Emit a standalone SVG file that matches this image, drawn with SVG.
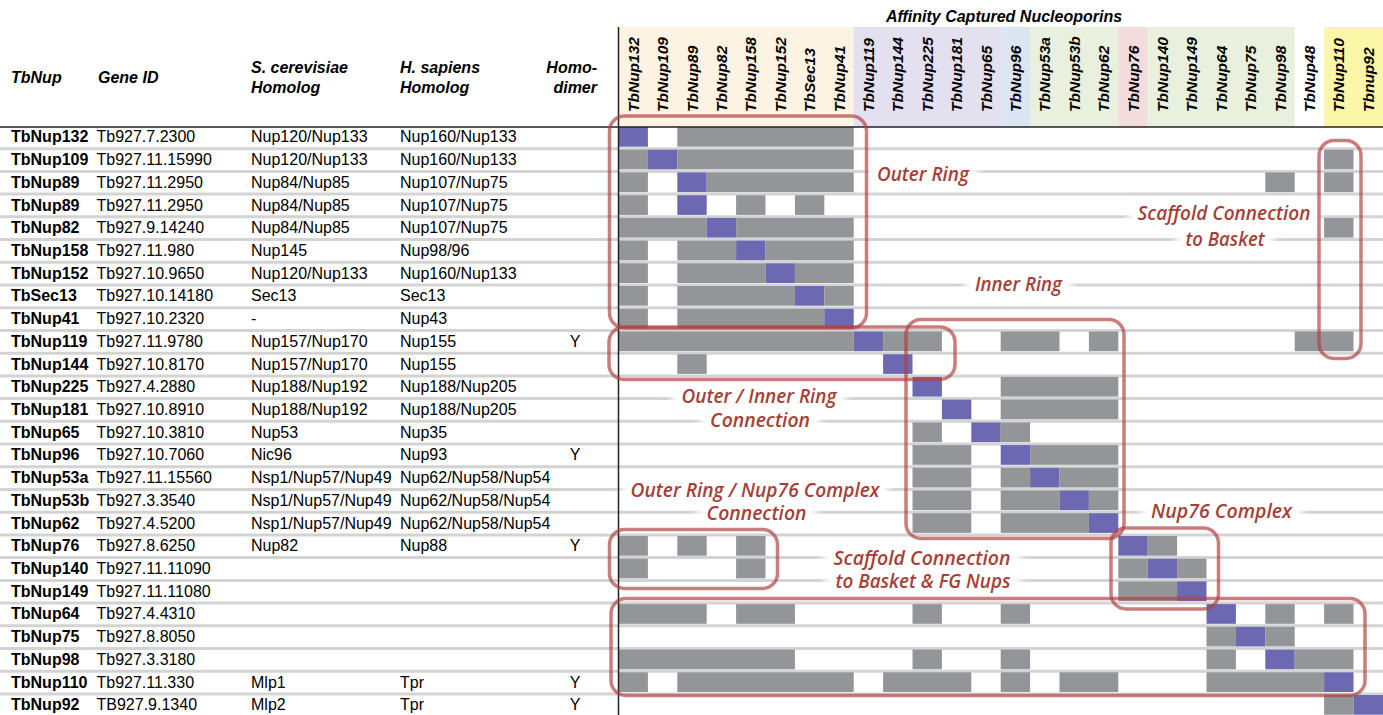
<svg xmlns="http://www.w3.org/2000/svg" width="1383" height="715" viewBox="0 0 1383 715">
<style>
.t{font-family:"Liberation Sans",Arial,sans-serif;font-size:16px;fill:#000}
.b{font-weight:bold}
.hd{font-family:"Liberation Sans",Arial,sans-serif;font-size:16px;font-weight:bold;font-style:italic;fill:#000}
.ch{font-family:"Liberation Sans",Arial,sans-serif;font-size:15.5px;font-weight:bold;font-style:italic;fill:#000}
.g{fill:#939598}
.p{fill:#6c68b1}
.box{fill:none;stroke:#b0413f;stroke-opacity:0.68;stroke-width:3.5}
.lb{font-family:"Open Sans","Liberation Sans",sans-serif;font-size:19px;font-style:italic;font-weight:600;fill:#a63f37;text-anchor:middle}
.halo{fill:#fff;filter:url(#blur)}
</style>
<defs>
<filter id="blur" x="-30%" y="-80%" width="160%" height="260%"><feGaussianBlur stdDeviation="4"/></filter>
</defs>
<rect width="1383" height="715" fill="#fff"/>
<g id="header-bands">
<rect x="618.5" y="27" width="235.2" height="100" fill="#fdf3e2"/>
<rect x="853.7" y="27" width="147" height="100" fill="#e3e0ef"/>
<rect x="1000.7" y="27" width="29.4" height="100" fill="#dce6f2"/>
<rect x="1030.1" y="27" width="88.2" height="100" fill="#e9f0dd"/>
<rect x="1118.3" y="27" width="29.4" height="100" fill="#f4dcdc"/>
<rect x="1147.7" y="27" width="147" height="100" fill="#e9f0dd"/>
<rect x="1324.1" y="27" width="58.9" height="100" fill="#fcf6a9"/>
</g>
<g id="row-lines" stroke="#d3d3d3" stroke-width="3">
<path d="M0 148.7H1383M0 171.4H1383M0 194.1H1383M0 216.8H1383M0 239.6H1383M0 262.3H1383M0 285H1383M0 307.7H1383M0 330.4H1383M0 353.2H1383M0 375.9H1383M0 398.6H1383M0 421.3H1383M0 444H1383M0 466.8H1383M0 489.5H1383M0 512.2H1383M0 534.9H1383M0 557.6H1383M0 580.4H1383M0 603.1H1383M0 625.8H1383M0 648.5H1383M0 671.2H1383M0 694H1383M0 716.7H1383"/>
</g>
<g id="halos">
<rect class="halo" x="868" y="164" width="110" height="22"/>
<rect class="halo" x="1128" y="203" width="192" height="22"/>
<rect class="halo" x="1176" y="230" width="98" height="21"/>
<rect class="halo" x="965" y="275" width="107" height="22"/>
<rect class="halo" x="672" y="387" width="174" height="22"/>
<rect class="halo" x="700" y="410" width="120" height="22"/>
<rect class="halo" x="621" y="479" width="268" height="23"/>
<rect class="halo" x="697" y="503" width="119" height="22"/>
<rect class="halo" x="1141" y="500" width="161" height="23"/>
<rect class="halo" x="823" y="547" width="198" height="23"/>
<rect class="halo" x="825" y="571" width="196" height="22"/>
</g>
<g id="cells">
<rect class="p" x="618.5" y="127" width="29.4" height="19.7"/><rect class="g" x="677.3" y="127" width="176.4" height="19.7"/>
<rect class="g" x="618.5" y="149.7" width="29.4" height="19.7"/><rect class="p" x="647.9" y="149.7" width="29.4" height="19.7"/><rect class="g" x="677.3" y="149.7" width="176.4" height="19.7"/><rect class="g" x="1324.1" y="149.7" width="29.4" height="19.7"/>
<rect class="g" x="618.5" y="172.4" width="29.4" height="19.7"/><rect class="p" x="677.3" y="172.4" width="29.4" height="19.7"/><rect class="g" x="706.7" y="172.4" width="147" height="19.7"/><rect class="g" x="1265.3" y="172.4" width="29.4" height="19.7"/><rect class="g" x="1324.1" y="172.4" width="29.4" height="19.7"/>
<rect class="g" x="618.5" y="195.2" width="29.4" height="19.7"/><rect class="p" x="677.3" y="195.2" width="29.4" height="19.7"/><rect class="g" x="736.1" y="195.2" width="29.4" height="19.7"/><rect class="g" x="794.9" y="195.2" width="29.4" height="19.7"/>
<rect class="g" x="618.5" y="217.9" width="88.2" height="19.7"/><rect class="p" x="706.7" y="217.9" width="29.4" height="19.7"/><rect class="g" x="736.1" y="217.9" width="117.6" height="19.7"/><rect class="g" x="1324.1" y="217.9" width="29.4" height="19.7"/>
<rect class="g" x="618.5" y="240.6" width="29.4" height="19.7"/><rect class="g" x="677.3" y="240.6" width="58.8" height="19.7"/><rect class="p" x="736.1" y="240.6" width="29.4" height="19.7"/><rect class="g" x="765.5" y="240.6" width="88.2" height="19.7"/>
<rect class="g" x="618.5" y="263.3" width="29.4" height="19.7"/><rect class="g" x="677.3" y="263.3" width="88.2" height="19.7"/><rect class="p" x="765.5" y="263.3" width="29.4" height="19.7"/><rect class="g" x="794.9" y="263.3" width="58.8" height="19.7"/>
<rect class="g" x="618.5" y="286" width="29.4" height="19.7"/><rect class="g" x="677.3" y="286" width="117.6" height="19.7"/><rect class="p" x="794.9" y="286" width="29.4" height="19.7"/><rect class="g" x="824.3" y="286" width="29.4" height="19.7"/>
<rect class="g" x="618.5" y="308.8" width="29.4" height="19.7"/><rect class="g" x="677.3" y="308.8" width="147" height="19.7"/><rect class="p" x="824.3" y="308.8" width="29.4" height="19.7"/>
<rect class="g" x="618.5" y="331.5" width="235.2" height="19.7"/><rect class="p" x="853.7" y="331.5" width="29.4" height="19.7"/><rect class="g" x="883.1" y="331.5" width="58.8" height="19.7"/><rect class="g" x="1000.7" y="331.5" width="58.8" height="19.7"/><rect class="g" x="1088.9" y="331.5" width="29.4" height="19.7"/><rect class="g" x="1294.7" y="331.5" width="58.8" height="19.7"/>
<rect class="g" x="677.3" y="354.2" width="29.4" height="19.7"/><rect class="p" x="883.1" y="354.2" width="29.4" height="19.7"/>
<rect class="p" x="912.5" y="376.9" width="29.4" height="19.7"/><rect class="g" x="1000.7" y="376.9" width="117.6" height="19.7"/>
<rect class="p" x="941.9" y="399.6" width="29.4" height="19.7"/><rect class="g" x="1000.7" y="399.6" width="117.6" height="19.7"/>
<rect class="g" x="912.5" y="422.4" width="29.4" height="19.7"/><rect class="p" x="971.3" y="422.4" width="29.4" height="19.7"/><rect class="g" x="1000.7" y="422.4" width="29.4" height="19.7"/>
<rect class="g" x="912.5" y="445.1" width="58.8" height="19.7"/><rect class="p" x="1000.7" y="445.1" width="29.4" height="19.7"/><rect class="g" x="1030.1" y="445.1" width="88.2" height="19.7"/>
<rect class="g" x="912.5" y="467.8" width="58.8" height="19.7"/><rect class="g" x="1000.7" y="467.8" width="29.4" height="19.7"/><rect class="p" x="1030.1" y="467.8" width="29.4" height="19.7"/><rect class="g" x="1059.5" y="467.8" width="58.8" height="19.7"/>
<rect class="g" x="912.5" y="490.5" width="58.8" height="19.7"/><rect class="g" x="1000.7" y="490.5" width="58.8" height="19.7"/><rect class="p" x="1059.5" y="490.5" width="29.4" height="19.7"/><rect class="g" x="1088.9" y="490.5" width="29.4" height="19.7"/>
<rect class="g" x="912.5" y="513.2" width="58.8" height="19.7"/><rect class="g" x="1000.7" y="513.2" width="88.2" height="19.7"/><rect class="p" x="1088.9" y="513.2" width="29.4" height="19.7"/>
<rect class="g" x="618.5" y="536" width="29.4" height="19.7"/><rect class="g" x="677.3" y="536" width="29.4" height="19.7"/><rect class="g" x="736.1" y="536" width="29.4" height="19.7"/><rect class="p" x="1118.3" y="536" width="29.4" height="19.7"/><rect class="g" x="1147.7" y="536" width="29.4" height="19.7"/>
<rect class="g" x="618.5" y="558.7" width="29.4" height="19.7"/><rect class="g" x="736.1" y="558.7" width="29.4" height="19.7"/><rect class="g" x="1118.3" y="558.7" width="29.4" height="19.7"/><rect class="p" x="1147.7" y="558.7" width="29.4" height="19.7"/><rect class="g" x="1177.1" y="558.7" width="29.4" height="19.7"/>
<rect class="g" x="1118.3" y="581.4" width="58.8" height="19.7"/><rect class="p" x="1177.1" y="581.4" width="29.4" height="19.7"/>
<rect class="g" x="618.5" y="604.1" width="88.2" height="19.7"/><rect class="g" x="736.1" y="604.1" width="58.8" height="19.7"/><rect class="g" x="912.5" y="604.1" width="29.4" height="19.7"/><rect class="g" x="1000.7" y="604.1" width="29.4" height="19.7"/><rect class="p" x="1206.5" y="604.1" width="29.4" height="19.7"/><rect class="g" x="1265.3" y="604.1" width="29.4" height="19.7"/><rect class="g" x="1324.1" y="604.1" width="29.4" height="19.7"/>
<rect class="g" x="1206.5" y="626.8" width="29.4" height="19.7"/><rect class="p" x="1235.9" y="626.8" width="29.4" height="19.7"/><rect class="g" x="1265.3" y="626.8" width="29.4" height="19.7"/>
<rect class="g" x="618.5" y="649.6" width="176.4" height="19.7"/><rect class="g" x="912.5" y="649.6" width="29.4" height="19.7"/><rect class="g" x="1000.7" y="649.6" width="29.4" height="19.7"/><rect class="g" x="1206.5" y="649.6" width="29.4" height="19.7"/><rect class="p" x="1265.3" y="649.6" width="29.4" height="19.7"/><rect class="g" x="1294.7" y="649.6" width="58.8" height="19.7"/>
<rect class="g" x="618.5" y="672.3" width="29.4" height="19.7"/><rect class="g" x="677.3" y="672.3" width="176.4" height="19.7"/><rect class="g" x="883.1" y="672.3" width="88.2" height="19.7"/><rect class="g" x="1000.7" y="672.3" width="29.4" height="19.7"/><rect class="g" x="1059.5" y="672.3" width="58.8" height="19.7"/><rect class="g" x="1206.5" y="672.3" width="117.6" height="19.7"/><rect class="p" x="1324.1" y="672.3" width="29.4" height="19.7"/>
<rect class="g" x="1324.1" y="695" width="29.4" height="19.7"/><rect class="p" x="1353.5" y="695" width="29.5" height="19.7"/>
</g>
<g id="rules" stroke="#222" stroke-width="1.5">
<line x1="0" y1="127" x2="1383" y2="127"/>
<line x1="618.5" y1="27" x2="618.5" y2="715"/>
</g>
<g id="table-header">
<text class="hd" x="11" y="83">TbNup</text>
<text class="hd" x="98" y="83">Gene ID</text>
<text class="hd" x="251" y="72.5">S. cerevisiae</text>
<text class="hd" x="251" y="92.5">Homolog</text>
<text class="hd" x="400" y="72.5">H. sapiens</text>
<text class="hd" x="400" y="92.5">Homolog</text>
<text class="hd" x="597" y="72.5" text-anchor="end">Homo-</text>
<text class="hd" x="597" y="92.5" text-anchor="end">dimer</text>
<text class="hd" x="1004" y="22" text-anchor="middle">Affinity Captured Nucleoporins</text>
</g>
<g id="column-headers">
<text class="ch" transform="translate(638.7,112) rotate(-90)">TbNup132</text>
<text class="ch" transform="translate(668.1,112) rotate(-90)">TbNup109</text>
<text class="ch" transform="translate(697.5,112) rotate(-90)">TbNup89</text>
<text class="ch" transform="translate(726.9,112) rotate(-90)">TbNup82</text>
<text class="ch" transform="translate(756.3,112) rotate(-90)">TbNup158</text>
<text class="ch" transform="translate(785.7,112) rotate(-90)">TbNup152</text>
<text class="ch" transform="translate(815.1,112) rotate(-90)">TbSec13</text>
<text class="ch" transform="translate(844.5,112) rotate(-90)">TbNup41</text>
<text class="ch" transform="translate(873.9,112) rotate(-90)">TbNup119</text>
<text class="ch" transform="translate(903.3,112) rotate(-90)">TbNup144</text>
<text class="ch" transform="translate(932.7,112) rotate(-90)">TbNup225</text>
<text class="ch" transform="translate(962.1,112) rotate(-90)">TbNup181</text>
<text class="ch" transform="translate(991.5,112) rotate(-90)">TbNup65</text>
<text class="ch" transform="translate(1020.9,112) rotate(-90)">TbNup96</text>
<text class="ch" transform="translate(1050.3,112) rotate(-90)">TbNup53a</text>
<text class="ch" transform="translate(1079.7,112) rotate(-90)">TbNup53b</text>
<text class="ch" transform="translate(1109.1,112) rotate(-90)">TbNup62</text>
<text class="ch" transform="translate(1138.5,112) rotate(-90)">TbNup76</text>
<text class="ch" transform="translate(1167.9,112) rotate(-90)">TbNup140</text>
<text class="ch" transform="translate(1197.3,112) rotate(-90)">TbNup149</text>
<text class="ch" transform="translate(1226.7,112) rotate(-90)">TbNup64</text>
<text class="ch" transform="translate(1256.1,112) rotate(-90)">TbNup75</text>
<text class="ch" transform="translate(1285.5,112) rotate(-90)">TbNup98</text>
<text class="ch" transform="translate(1314.9,112) rotate(-90)">TbNup48</text>
<text class="ch" transform="translate(1344.3,112) rotate(-90)">TbNup110</text>
<text class="ch" transform="translate(1373.7,112) rotate(-90)">Tbnup92</text>
</g>
<g id="table-rows" class="t">
<g id="row-TbNup132"><text class="t b" x="11" y="142.3">TbNup132</text><text class="t" x="96.5" y="142.3">Tb927.7.2300</text><text class="t" x="251" y="142.3">Nup120/Nup133</text><text class="t" x="400" y="142.3">Nup160/Nup133</text></g>
<g id="row-TbNup109"><text class="t b" x="11" y="165">TbNup109</text><text class="t" x="96.5" y="165">Tb927.11.15990</text><text class="t" x="251" y="165">Nup120/Nup133</text><text class="t" x="400" y="165">Nup160/Nup133</text></g>
<g id="row-TbNup89a"><text class="t b" x="11" y="187.7">TbNup89</text><text class="t" x="96.5" y="187.7">Tb927.11.2950</text><text class="t" x="251" y="187.7">Nup84/Nup85</text><text class="t" x="400" y="187.7">Nup107/Nup75</text></g>
<g id="row-TbNup89b"><text class="t b" x="11" y="210.5">TbNup89</text><text class="t" x="96.5" y="210.5">Tb927.11.2950</text><text class="t" x="251" y="210.5">Nup84/Nup85</text><text class="t" x="400" y="210.5">Nup107/Nup75</text></g>
<g id="row-TbNup82"><text class="t b" x="11" y="233.2">TbNup82</text><text class="t" x="96.5" y="233.2">Tb927.9.14240</text><text class="t" x="251" y="233.2">Nup84/Nup85</text><text class="t" x="400" y="233.2">Nup107/Nup75</text></g>
<g id="row-TbNup158"><text class="t b" x="11" y="255.9">TbNup158</text><text class="t" x="96.5" y="255.9">Tb927.11.980</text><text class="t" x="251" y="255.9">Nup145</text><text class="t" x="400" y="255.9">Nup98/96</text></g>
<g id="row-TbNup152"><text class="t b" x="11" y="278.6">TbNup152</text><text class="t" x="96.5" y="278.6">Tb927.10.9650</text><text class="t" x="251" y="278.6">Nup120/Nup133</text><text class="t" x="400" y="278.6">Nup160/Nup133</text></g>
<g id="row-TbSec13"><text class="t b" x="11" y="301.3">TbSec13</text><text class="t" x="96.5" y="301.3">Tb927.10.14180</text><text class="t" x="251" y="301.3">Sec13</text><text class="t" x="400" y="301.3">Sec13</text></g>
<g id="row-TbNup41"><text class="t b" x="11" y="324.1">TbNup41</text><text class="t" x="96.5" y="324.1">Tb927.10.2320</text><text class="t" x="251" y="324.1">-</text><text class="t" x="400" y="324.1">Nup43</text></g>
<g id="row-TbNup119"><text class="t b" x="11" y="346.8">TbNup119</text><text class="t" x="96.5" y="346.8">Tb927.11.9780</text><text class="t" x="251" y="346.8">Nup157/Nup170</text><text class="t" x="400" y="346.8">Nup155</text><text class="t" x="575" y="346.8" text-anchor="middle">Y</text></g>
<g id="row-TbNup144"><text class="t b" x="11" y="369.5">TbNup144</text><text class="t" x="96.5" y="369.5">Tb927.10.8170</text><text class="t" x="251" y="369.5">Nup157/Nup170</text><text class="t" x="400" y="369.5">Nup155</text></g>
<g id="row-TbNup225"><text class="t b" x="11" y="392.2">TbNup225</text><text class="t" x="96.5" y="392.2">Tb927.4.2880</text><text class="t" x="251" y="392.2">Nup188/Nup192</text><text class="t" x="400" y="392.2">Nup188/Nup205</text></g>
<g id="row-TbNup181"><text class="t b" x="11" y="414.9">TbNup181</text><text class="t" x="96.5" y="414.9">Tb927.10.8910</text><text class="t" x="251" y="414.9">Nup188/Nup192</text><text class="t" x="400" y="414.9">Nup188/Nup205</text></g>
<g id="row-TbNup65"><text class="t b" x="11" y="437.7">TbNup65</text><text class="t" x="96.5" y="437.7">Tb927.10.3810</text><text class="t" x="251" y="437.7">Nup53</text><text class="t" x="400" y="437.7">Nup35</text></g>
<g id="row-TbNup96"><text class="t b" x="11" y="460.4">TbNup96</text><text class="t" x="96.5" y="460.4">Tb927.10.7060</text><text class="t" x="251" y="460.4">Nic96</text><text class="t" x="400" y="460.4">Nup93</text><text class="t" x="575" y="460.4" text-anchor="middle">Y</text></g>
<g id="row-TbNup53a"><text class="t b" x="11" y="483.1">TbNup53a</text><text class="t" x="96.5" y="483.1">Tb927.11.15560</text><text class="t" x="251" y="483.1">Nsp1/Nup57/Nup49</text><text class="t" x="400" y="483.1">Nup62/Nup58/Nup54</text></g>
<g id="row-TbNup53b"><text class="t b" x="11" y="505.8">TbNup53b</text><text class="t" x="96.5" y="505.8">Tb927.3.3540</text><text class="t" x="251" y="505.8">Nsp1/Nup57/Nup49</text><text class="t" x="400" y="505.8">Nup62/Nup58/Nup54</text></g>
<g id="row-TbNup62"><text class="t b" x="11" y="528.5">TbNup62</text><text class="t" x="96.5" y="528.5">Tb927.4.5200</text><text class="t" x="251" y="528.5">Nsp1/Nup57/Nup49</text><text class="t" x="400" y="528.5">Nup62/Nup58/Nup54</text></g>
<g id="row-TbNup76"><text class="t b" x="11" y="551.3">TbNup76</text><text class="t" x="96.5" y="551.3">Tb927.8.6250</text><text class="t" x="251" y="551.3">Nup82</text><text class="t" x="400" y="551.3">Nup88</text><text class="t" x="575" y="551.3" text-anchor="middle">Y</text></g>
<g id="row-TbNup140"><text class="t b" x="11" y="574">TbNup140</text><text class="t" x="96.5" y="574">Tb927.11.11090</text></g>
<g id="row-TbNup149"><text class="t b" x="11" y="596.7">TbNup149</text><text class="t" x="96.5" y="596.7">Tb927.11.11080</text></g>
<g id="row-TbNup64"><text class="t b" x="11" y="619.4">TbNup64</text><text class="t" x="96.5" y="619.4">Tb927.4.4310</text></g>
<g id="row-TbNup75"><text class="t b" x="11" y="642.1">TbNup75</text><text class="t" x="96.5" y="642.1">Tb927.8.8050</text></g>
<g id="row-TbNup98"><text class="t b" x="11" y="664.9">TbNup98</text><text class="t" x="96.5" y="664.9">Tb927.3.3180</text></g>
<g id="row-TbNup110"><text class="t b" x="11" y="687.6">TbNup110</text><text class="t" x="96.5" y="687.6">Tb927.11.330</text><text class="t" x="251" y="687.6">Mlp1</text><text class="t" x="400" y="687.6">Tpr</text><text class="t" x="575" y="687.6" text-anchor="middle">Y</text></g>
<g id="row-TbNup92"><text class="t b" x="11" y="710.3">TbNup92</text><text class="t" x="96.5" y="710.3">TB927.9.1340</text><text class="t" x="251" y="710.3">Mlp2</text><text class="t" x="400" y="710.3">Tpr</text><text class="t" x="575" y="710.3" text-anchor="middle">Y</text></g>
</g>
<g id="regions">
<g id="outer-ring"><rect class="box" x="609.5" y="116" width="257" height="212" rx="15"/><text class="lb" x="923" y="180.5" textLength="92" lengthAdjust="spacingAndGlyphs">Outer Ring</text></g>
<g id="scaffold-basket"><rect class="box" x="1319" y="140.5" width="42" height="218" rx="15"/><text class="lb" x="1224" y="220" textLength="173" lengthAdjust="spacingAndGlyphs">Scaffold Connection</text><text class="lb" x="1225" y="245.5" textLength="79" lengthAdjust="spacingAndGlyphs">to Basket</text></g>
<g id="inner-ring"><rect class="box" x="906" y="319.5" width="218" height="219" rx="15"/><text class="lb" x="1018.5" y="291" textLength="87" lengthAdjust="spacingAndGlyphs">Inner Ring</text></g>
<g id="outer-inner-connection"><rect class="box" x="609" y="327" width="346" height="52.5" rx="15"/><text class="lb" x="759" y="403.2" textLength="155" lengthAdjust="spacingAndGlyphs">Outer / Inner Ring</text><text class="lb" x="760" y="427" textLength="100" lengthAdjust="spacingAndGlyphs">Connection</text></g>
<g id="outer-nup76-connection"><rect class="box" x="609.5" y="529.5" width="168" height="59" rx="15"/><text class="lb" x="755" y="496.5" textLength="249" lengthAdjust="spacingAndGlyphs">Outer Ring / Nup76 Complex</text><text class="lb" x="756.5" y="520.2" textLength="100" lengthAdjust="spacingAndGlyphs">Connection</text></g>
<g id="nup76-complex"><rect class="box" x="1111" y="528" width="107.5" height="81" rx="15"/><text class="lb" x="1221.5" y="518" textLength="141" lengthAdjust="spacingAndGlyphs">Nup76 Complex</text></g>
<g id="scaffold-basket-fg"><rect class="box" x="611" y="598.5" width="754" height="97" rx="15"/><text class="lb" x="922" y="564.5" textLength="177" lengthAdjust="spacingAndGlyphs">Scaffold Connection</text><text class="lb" x="923" y="588.2" textLength="175" lengthAdjust="spacingAndGlyphs">to Basket &amp; FG Nups</text></g>
</g>
</svg>
